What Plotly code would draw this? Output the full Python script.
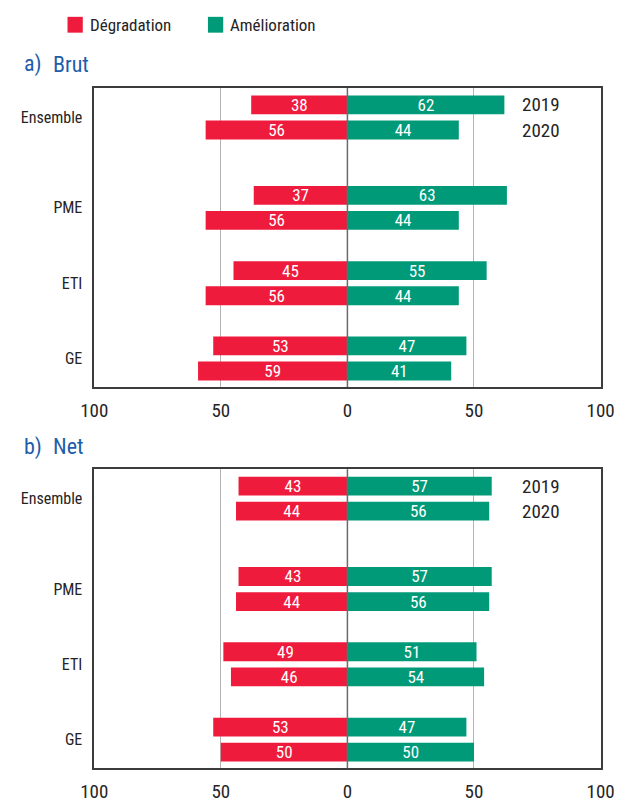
import plotly.graph_objects as go

# ---- data ----
categories = ["Ensemble", "PME", "ETI", "GE"]
years = ["2019", "2020"]

brut_degradation_2019 = [38, 37, 45, 53]
brut_degradation_2020 = [56, 56, 56, 59]
brut_amelioration_2019 = [62, 63, 55, 47]
brut_amelioration_2020 = [44, 44, 44, 41]

net_degradation_2019 = [43, 43, 49, 53]
net_degradation_2020 = [44, 44, 46, 50]
net_amelioration_2019 = [57, 57, 51, 47]
net_amelioration_2020 = [56, 56, 54, 50]

x_tickvals = [-100, -50, 0, 50, 100]
x_ticktext = ["100", "50", "0", "50", "100"]

# ---- styles ----
RED = "#EE1B3C"
GREEN = "#009A78"
BLUE = "#1D5DAA"
DARK = "#262324"
FONT = "Roboto Condensed, Liberation Sans Narrow, Arial Narrow, Roboto, sans-serif"

W, H = 627, 803
group_pos = [0, 1.2, 2.2, 3.2]
year_off = [-1 / 6, 1 / 6]
bar_w = 0.25


def px_x(p):
    return p / W


def px_y(p):
    return (H - p) / H


fig = go.Figure()


def add_panel(deg19, deg20, ame19, ame20, xa, ya):
    for vals19, vals20, color, sign in [
        (deg19, deg20, RED, -1),
        (ame19, ame20, GREEN, 1),
    ]:
        ys, xs, txt = [], [], []
        for i in range(len(categories)):
            for j, vals in enumerate([vals19, vals20]):
                ys.append(group_pos[i] + year_off[j])
                xs.append(sign * vals[i])
                txt.append(str(vals[i]))
        fig.add_trace(
            go.Bar(
                x=xs,
                y=ys,
                orientation="h",
                width=bar_w,
                marker=dict(color=color, line=dict(width=0)),
                text=txt,
                textposition="inside",
                insidetextanchor="middle",
                constraintext="none",
                textangle=0,
                textfont=dict(color="white", size=17, family=FONT),
                xaxis=xa,
                yaxis=ya,
                showlegend=False,
                hoverinfo="skip",
            )
        )
    # year labels next to the Ensemble bars
    for j, yr in enumerate(years):
        fig.add_annotation(
            x=68,
            y=group_pos[0] + year_off[j],
            xref=xa,
            yref=ya,
            text=yr,
            showarrow=False,
            xanchor="left",
            yanchor="middle",
            font=dict(size=19, color=DARK, family=FONT),
        )
    # zero reference line above the bars
    fig.add_shape(
        type="line",
        x0=0,
        x1=0,
        xref=xa,
        y0=0,
        y1=1,
        yref=ya + " domain",
        line=dict(color="#6b6b6b", width=1.5),
        layer="above",
    )


add_panel(brut_degradation_2019, brut_degradation_2020,
          brut_amelioration_2019, brut_amelioration_2020, "x", "y")
add_panel(net_degradation_2019, net_degradation_2020,
          net_amelioration_2019, net_amelioration_2020, "x2", "y2")

xdom = [px_x(84), px_x(614)]
common_x = dict(
    domain=xdom,
    range=[-100, 100],
    tickvals=x_tickvals,
    ticktext=x_ticktext,
    showgrid=True,
    gridcolor="#b3b3b3",
    gridwidth=1,
    zeroline=False,
    showline=True,
    mirror=True,
    linecolor="#3c3c3c",
    linewidth=1.5,
    ticks="",
    ticklabelstandoff=5,
    ticklabeloverflow="allow",
    tickfont=dict(size=19, color=DARK, family=FONT),
    fixedrange=True,
)
common_y = dict(
    range=[3.58, -0.39],
    tickvals=group_pos,
    ticktext=categories,
    showgrid=False,
    zeroline=False,
    showline=True,
    mirror=True,
    linecolor="#3c3c3c",
    linewidth=1.5,
    ticks="",
    ticklabelstandoff=7,
    tickfont=dict(size=16, color=DARK, family=FONT),
    fixedrange=True,
)

fig.update_layout(
    width=W,
    height=H,
    margin=dict(l=0, r=0, t=0, b=0),
    paper_bgcolor="white",
    plot_bgcolor="white",
    barmode="overlay",
    showlegend=False,
    font=dict(family=FONT, color=DARK),
    xaxis=dict(common_x, anchor="y"),
    yaxis=dict(common_y, domain=[px_y(391), px_y(89)], anchor="x"),
    xaxis2=dict(common_x, anchor="y2"),
    yaxis2=dict(common_y, domain=[px_y(776), px_y(474)], anchor="x2"),
)

# legend (custom)
for x0, color, label in [(56, RED, "Dégradation"), (203, GREEN, "Amélioration")]:
    fig.add_shape(
        type="rect",
        xref="paper",
        yref="paper",
        x0=px_x(x0),
        x1=px_x(x0 + 16),
        y0=px_y(33),
        y1=px_y(17),
        fillcolor=color,
        line=dict(width=0),
    )
    fig.add_annotation(
        x=px_x(x0 + 21),
        y=px_y(25),
        xref="paper",
        yref="paper",
        text=label,
        showarrow=False,
        xanchor="left",
        yanchor="middle",
        font=dict(size=17, color=DARK, family=FONT),
    )

# partially visible unit label at the very top
fig.add_annotation(
    x=px_x(8), y=px_y(3), xref="paper", yref="paper", text="(en %)",
    showarrow=False, xanchor="left", yanchor="bottom",
    font=dict(size=18, color=DARK, family=FONT),
)

# panel titles
for ypix, tag, name in [(65, "a)", "Brut"), (451, "b)", "Net")]:
    fig.add_annotation(
        x=px_x(8), y=px_y(ypix), xref="paper", yref="paper", text=tag,
        showarrow=False, xanchor="left", yanchor="middle",
        font=dict(size=22, color=BLUE, family=FONT),
    )
    fig.add_annotation(
        x=px_x(39), y=px_y(ypix), xref="paper", yref="paper", text=name,
        showarrow=False, xanchor="left", yanchor="middle",
        font=dict(size=22, color=BLUE, family=FONT),
    )

fig.write_html("out.html")
